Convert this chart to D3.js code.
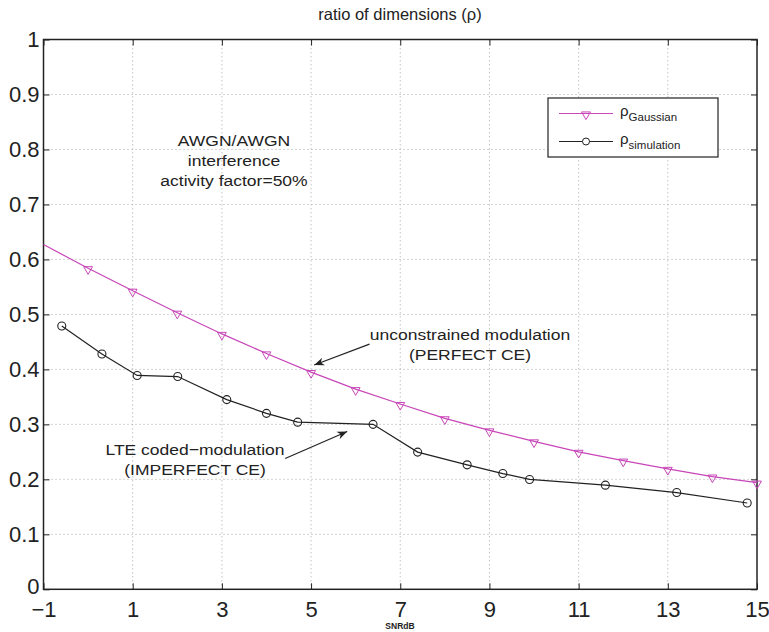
<!DOCTYPE html>
<html>
<head>
<meta charset="utf-8">
<script src="https://cdn.jsdelivr.net/npm/d3@7"></script>
<style>
  body { margin: 0; background: #fff; }
  svg { font-family: "Liberation Sans", Arial, sans-serif; }
  .grid line { stroke: #a8a8a8; stroke-dasharray: 1, 3; }
</style>
</head>
<body>
<div id="svg-container"></div>
<script>
// data
const gaussX = [-1, 0, 1, 2, 3, 4, 5, 6, 7, 8, 9, 10, 11, 12, 13, 14, 15];
const gaussY = [0.627, 0.584, 0.543, 0.503, 0.4645, 0.429, 0.395, 0.364, 0.337, 0.311, 0.289, 0.269, 0.25, 0.234, 0.219, 0.205, 0.194];
const simX = [-0.59, 0.31, 1.1, 2.01, 3.11, 4.0, 4.7, 6.39, 7.39, 8.5, 9.3, 9.9, 11.6, 13.2, 14.78];
const simY = [0.479, 0.428, 0.389, 0.387, 0.345, 0.32, 0.304, 0.3, 0.2495, 0.2264, 0.2105, 0.1998, 0.1894, 0.176, 0.157];
const xTicks = [-1, 1, 3, 5, 7, 9, 11, 13, 15];
const yTicks = [0, 0.1, 0.2, 0.3, 0.4, 0.5, 0.6, 0.7, 0.8, 0.9, 1];

const width = 769, height = 632;
const margin = { top: 39.5, right: 12, bottom: 42.7, left: 43.5 };

const svg = d3.select("#svg-container").append("svg")
  .attr("width", width).attr("height", height);

const xScale = d3.scaleLinear().domain([-1, 15]).range([margin.left, width - margin.right]);
const yScale = d3.scaleLinear().domain([0, 1]).range([height - margin.bottom, margin.top]);

const gauss = gaussX.map((x, i) => ({ x: x, y: gaussY[i] }));
const sim = simX.map((x, i) => ({ x: x, y: simY[i] }));

// grid
svg.append("g").attr("class", "grid")
  .selectAll("line").data(xTicks.slice(1, -1)).join("line")
  .attr("x1", d => xScale(d)).attr("x2", d => xScale(d))
  .attr("y1", yScale(0)).attr("y2", yScale(1));
svg.append("g").attr("class", "grid")
  .selectAll("line").data(yTicks.slice(1, -1)).join("line")
  .attr("x1", xScale(-1)).attr("x2", xScale(15))
  .attr("y1", d => yScale(d)).attr("y2", d => yScale(d));

// axes (ticks inward, MATLAB style)
const fmtX = d => (d < 0 ? "\u2212" + Math.abs(d) : d);
const fmtY = d => (d === 0 || d === 1 ? d : d3.format(".1f")(d));

svg.append("g").attr("class", "x-axis")
  .attr("transform", `translate(0,${yScale(0)})`)
  .call(d3.axisBottom(xScale).tickValues(xTicks).tickFormat(fmtX).tickSize(-6).tickSizeOuter(0).tickPadding(12))
  .call(g => g.select(".domain").remove())
  .call(g => g.selectAll("text").attr("font-size", 22).attr("fill", "#222").attr("dy", "0.7em"));
svg.append("g")
  .attr("transform", `translate(0,${yScale(1)})`)
  .call(d3.axisTop(xScale).tickValues(xTicks).tickFormat("").tickSize(-6).tickSizeOuter(0))
  .call(g => g.select(".domain").remove());

svg.append("g").attr("class", "y-axis")
  .attr("transform", `translate(${xScale(-1)},0)`)
  .call(d3.axisLeft(yScale).tickValues(yTicks).tickFormat(fmtY).tickSize(-6).tickSizeOuter(0).tickPadding(4))
  .call(g => g.select(".domain").remove())
  .call(g => g.selectAll("text").attr("font-size", 22).attr("fill", "#222"))
  .call(g => g.selectAll(".tick").filter(d => d === 0).select("text").attr("dy", "0.2em"));
svg.append("g")
  .attr("transform", `translate(${xScale(15)},0)`)
  .call(d3.axisRight(yScale).tickValues(yTicks).tickFormat("").tickSize(-6).tickSizeOuter(0))
  .call(g => g.select(".domain").remove());

svg.selectAll(".tick line").attr("stroke", "#222");

// frame
svg.append("rect")
  .attr("x", xScale(-1)).attr("y", yScale(1))
  .attr("width", xScale(15) - xScale(-1)).attr("height", yScale(0) - yScale(1))
  .attr("fill", "none").attr("stroke", "#222").attr("stroke-width", 1.5);

// lines
const line = d3.line().x(d => xScale(d.x)).y(d => yScale(d.y));
const pink = "#c846b8";

svg.append("path").datum(gauss)
  .attr("fill", "none").attr("stroke", pink).attr("stroke-width", 1.2).attr("d", line);
svg.append("path").datum(sim)
  .attr("fill", "none").attr("stroke", "#222").attr("stroke-width", 1.2).attr("d", line);

const tri = d3.symbol().type(d3.symbolTriangle).size(34);
svg.selectAll(".tri").data(gauss.filter(d => d.x > -1)).join("path")
  .attr("class", "tri")
  .attr("d", tri)
  .attr("transform", d => `translate(${xScale(d.x)},${yScale(d.y) + 1}) rotate(180)`)
  .attr("fill", "none").attr("stroke", pink).attr("stroke-width", 1);

svg.selectAll(".dot").data(sim).join("circle")
  .attr("class", "dot")
  .attr("cx", d => xScale(d.x)).attr("cy", d => yScale(d.y)).attr("r", 4)
  .attr("fill", "none").attr("stroke", "#222").attr("stroke-width", 1.1);

// title and x label
svg.append("text").attr("x", 400).attr("y", 20).attr("text-anchor", "middle")
  .attr("font-size", 16.5).attr("fill", "#222").text("ratio of dimensions (\u03c1)");
svg.append("text").attr("x", 400).attr("y", 629).attr("text-anchor", "middle")
  .attr("font-size", 8.5).attr("font-weight", "bold").attr("fill", "#222").text("SNRdB");

// annotations (font is a bit wider than Liberation Sans in the original)
const annot = svg.append("g").attr("font-size", 15.5).attr("fill", "#222").attr("text-anchor", "middle");
const addLines = (x, y, lines) => {
  lines.forEach((t, i) => annot.append("text")
    .attr("transform", `translate(${x},${y + i * 20}) scale(1.13,1)`).text(t));
};
addLines(234, 146, ["AWGN/AWGN", "interference", "activity factor=50%"]);
addLines(470, 340, ["unconstrained modulation", "(PERFECT CE)"]);
addLines(195, 455, ["LTE coded\u2212modulation", "(IMPERFECT CE)"]);

svg.append("defs").append("marker")
  .attr("id", "arrow").attr("viewBox", "0 0 10 10").attr("refX", 10).attr("refY", 5)
  .attr("markerWidth", 14).attr("markerHeight", 10).attr("markerUnits", "userSpaceOnUse")
  .attr("orient", "auto")
  .append("path").attr("d", "M0,1 L10,5 L0,9 L3,5 Z").attr("fill", "#222");

const arrows = [
  { x1: 6.31, y1: 0.446, x2: 5.07, y2: 0.408 },
  { x1: 4.42, y1: 0.238, x2: 5.81, y2: 0.287 }
];
svg.selectAll(".arrow").data(arrows).join("line")
  .attr("class", "arrow")
  .attr("x1", d => xScale(d.x1)).attr("y1", d => yScale(d.y1))
  .attr("x2", d => xScale(d.x2)).attr("y2", d => yScale(d.y2))
  .attr("stroke", "#222").attr("stroke-width", 1.2).attr("marker-end", "url(#arrow)");

// legend
const lg = svg.append("g").attr("transform", "translate(548,98)");
lg.append("rect").attr("width", 170).attr("height", 59)
  .attr("fill", "#fff").attr("stroke", "#222").attr("stroke-width", 1.2);
const legendItems = [
  { sub: "Gaussian", color: pink, type: "tri", y: 15.5 },
  { sub: "simulation", color: "#222", type: "dot", y: 43.5 }
];
legendItems.forEach(it => {
  lg.append("line").attr("x1", 11).attr("x2", 65).attr("y1", it.y).attr("y2", it.y)
    .attr("stroke", it.color).attr("stroke-width", 1.2);
  if (it.type === "tri") {
    lg.append("path").attr("d", tri).attr("transform", `translate(38,${it.y + 1}) rotate(180)`)
      .attr("fill", "none").attr("stroke", it.color);
  } else {
    lg.append("circle").attr("cx", 38).attr("cy", it.y).attr("r", 3.5)
      .attr("fill", "#fff").attr("stroke", it.color);
  }
  const t = lg.append("text").attr("x", 72).attr("y", it.y + 2).attr("font-size", 15).attr("fill", "#222");
  t.append("tspan").text("\u03c1");
  t.append("tspan").attr("dy", 5).attr("font-size", 11.5).text(it.sub);
});
</script>
</body>
</html>
